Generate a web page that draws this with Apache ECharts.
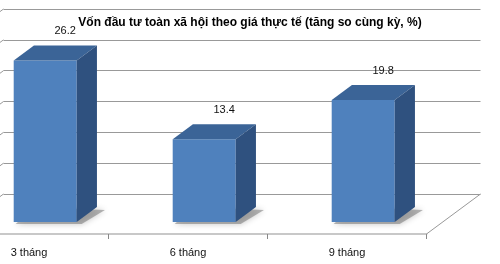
<!DOCTYPE html>
<html>
<head>
<meta charset="utf-8">
<script src="https://cdn.jsdelivr.net/npm/echarts@6/dist/echarts.min.js"></script>
<style>
html,body{margin:0;padding:0;background:#fff;}
#chart{width:500px;height:264px;}
</style>
</head>
<body>
<div id="chart"></div>
<script>
const titleText = 'Vốn đầu tư toàn xã hội theo giá thực tế (tăng so cùng kỳ, %)';
const categories = ['3 tháng', '6 tháng', '9 tháng'];
const values = [26.2, 13.4, 19.8];
const yMin = 0, yMax = 30, yStep = 5;

// oblique projection: full depth of the floor, bar placement in depth
const DX = 54, DY = -40;
const F1 = 0.3, F2 = 0.675;
const BAR_HALF = 31.5;
const FONT = '"Liberation Sans", Arial, sans-serif';

const chart = echarts.init(document.getElementById('chart'), null, {renderer: 'canvas'});

function renderBar(params, api) {
  const i = api.value(0), v = api.value(1);
  const base = api.coord([i, 0]);
  const top = api.coord([i, v]);
  const cx = base[0] + DX * F1;
  const xl = cx - BAR_HALF, xr = cx + BAR_HALF;
  const yb = base[1] + DY * F1, yt = top[1] + DY * F1;
  const ddx = DX * (F2 - F1), ddy = DY * (F2 - F1);
  const backValY = top[1] + DY;
  return {
    type: 'group',
    children: [
      {type: 'polygon', shape: {points: [[xl + 2, yb + 2], [xr + 5, yb + 2], [xr + ddx + 8, yb + ddy + 3], [xl + ddx, yb + ddy]]},
        style: {fill: 'rgba(110,110,110,0.5)', shadowBlur: 6, shadowColor: 'rgba(0,0,0,0.45)'}},
      {type: 'rect', shape: {x: xl, y: yt, width: xr - xl, height: yb - yt}, style: {fill: '#4f81bd'}},
      {type: 'polygon', shape: {points: [[xl, yt], [xr, yt], [xr + ddx, yt + ddy], [xl + ddx, yt + ddy]]}, style: {fill: '#3b6497'}},
      {type: 'polygon', shape: {points: [[xr, yt], [xr + ddx, yt + ddy], [xr + ddx, yb + ddy], [xr, yb]]}, style: {fill: '#2f517f'}},
      {type: 'text', x: cx + 20, y: backValY - 1,
        style: {text: String(v), fill: '#111', font: '11px ' + FONT, align: 'center', verticalAlign: 'middle'}}
    ]
  };
}

function renderFrame(params, api) {
  if (params.dataIndex !== 0) return;
  const bw = api.size([1, 0])[0];
  const last = api.coord([categories.length - 1, 0]);
  const first = api.coord([0, 0]);
  const rx = last[0] + bw / 2, ry = last[1];
  const lx = first[0] - bw / 2;
  const children = [
    {type: 'line', shape: {x1: rx, y1: ry, x2: rx + DX, y2: ry + DY}, style: {stroke: '#999', lineWidth: 1}}
  ];
  for (let t = yMin; t <= yMax; t += yStep) {
    const y = api.coord([0, t])[1];
    children.push({type: 'line', shape: {x1: lx, y1: y, x2: lx + DX, y2: y + DY}, style: {stroke: '#999', lineWidth: 1}});
  }
  return {type: 'group', children};
}

const frontLeft = -50.5, plotW = 477, frontBottom = 234, plotH = 185;

chart.setOption({
  animation: false,
  backgroundColor: '#fff',
  title: {
    text: titleText, left: 'center', top: 12,
    textStyle: {fontSize: 12, fontWeight: 'bold', color: '#000', fontFamily: FONT}
  },
  grid: [
    {left: frontLeft, top: frontBottom - plotH, width: plotW, height: plotH, containLabel: false, outerBoundsMode: 'none'},
    {left: frontLeft + DX, top: frontBottom - plotH + DY, width: plotW, height: plotH, containLabel: false, outerBoundsMode: 'none'}
  ],
  xAxis: [
    {type: 'category', gridIndex: 0, data: categories,
      axisLine: {lineStyle: {color: '#c8c8c8', width: 2}},
      axisTick: {show: true, length: 5, lineStyle: {color: '#888'}},
      axisLabel: {color: '#111', fontSize: 11, fontFamily: FONT, margin: 13}},
    {type: 'category', gridIndex: 1, data: categories, show: false}
  ],
  yAxis: [
    {type: 'value', gridIndex: 0, min: yMin, max: yMax, interval: yStep, show: false},
    {type: 'value', gridIndex: 1, min: yMin, max: yMax, interval: yStep,
      axisLine: {show: false}, axisTick: {show: false}, axisLabel: {show: false},
      splitLine: {show: true, lineStyle: {color: '#999', width: 1}}}
  ],
  series: [
    {type: 'custom', xAxisIndex: 0, yAxisIndex: 0, clip: false, renderItem: renderFrame, data: [[0, 0]], silent: true, z: 1},
    {type: 'custom', xAxisIndex: 0, yAxisIndex: 0, clip: false, renderItem: renderBar,
      data: values.map((v, i) => [i, v]), encode: {x: 0, y: 1}, z: 2}
  ]
});
</script>
</body>
</html>
